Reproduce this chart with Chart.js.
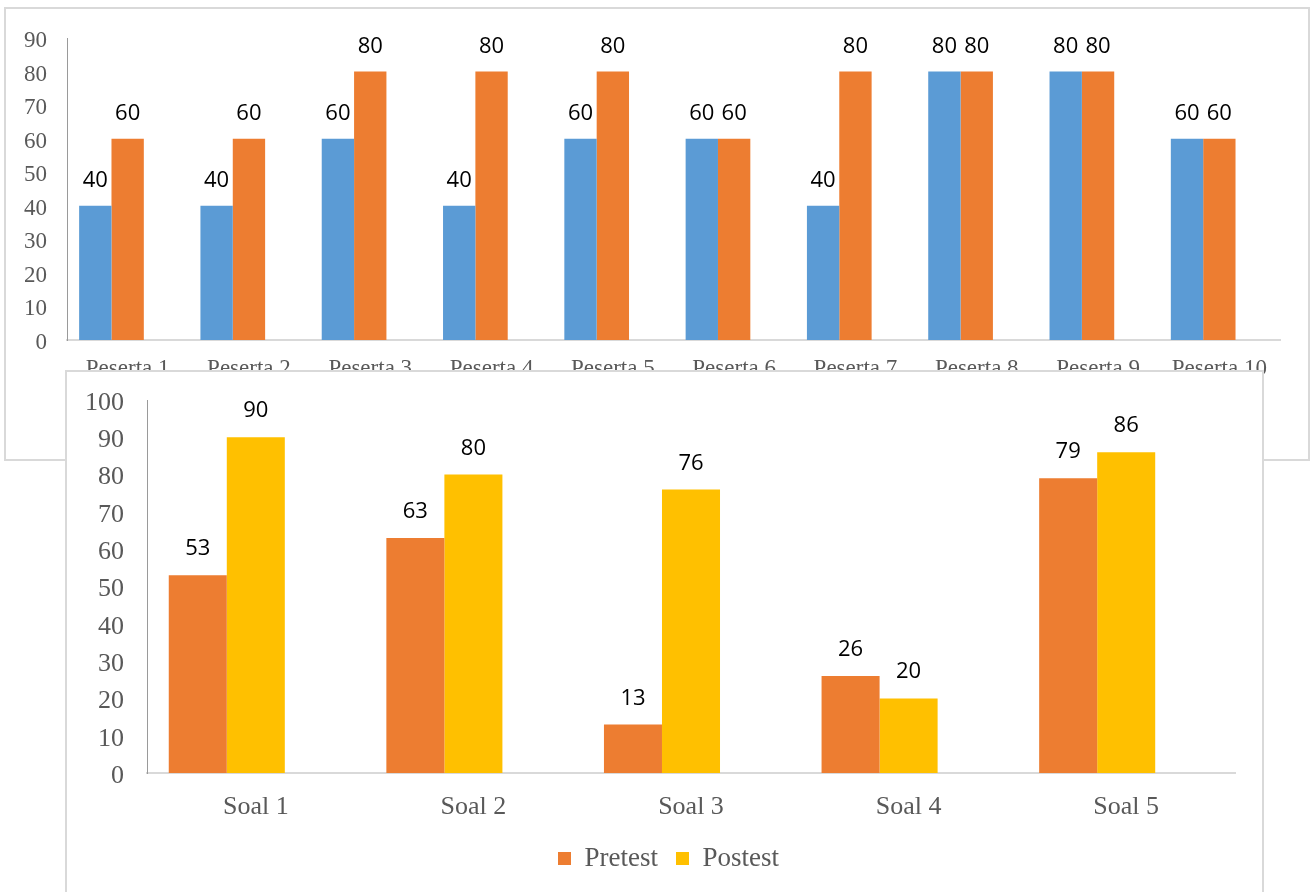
<!DOCTYPE html>
<html>
<head>
<meta charset="utf-8">
<script src="https://cdn.jsdelivr.net/npm/chart.js@4/dist/chart.umd.min.js"></script>
<style>
  body { margin: 0; background: #fff; width: 1310px; height: 892px; overflow: hidden; position: relative; }
  .box { position: absolute; box-sizing: border-box; border: 2px solid #d9d9d9; background: #fff; }
  canvas { position: absolute; }
</style>
</head>
<body>
<div class="box" style="left:4px;top:7px;width:1306px;height:454px;z-index:1"></div>
<canvas id="topChart" width="1303" height="452" style="left:5px;top:8px;z-index:2"></canvas>
<div class="box" style="left:65px;top:370px;width:1199px;height:600px;z-index:3"></div>
<canvas id="bottomChart" width="1196" height="521" style="left:66px;top:371px;z-index:4"></canvas>
<script>
// top chart: participants
const pesertaLabels = ['Peserta 1', 'Peserta 2', 'Peserta 3', 'Peserta 4', 'Peserta 5',
  'Peserta 6', 'Peserta 7', 'Peserta 8', 'Peserta 9', 'Peserta 10'];
const pesertaPretest = [40, 40, 60, 40, 60, 60, 40, 80, 80, 60];
const pesertaPostest = [60, 60, 80, 80, 80, 60, 80, 80, 80, 60];
const pesertaTicks = [0, 10, 20, 30, 40, 50, 60, 70, 80, 90];

// bottom chart: questions
const soalLabels = ['Soal 1', 'Soal 2', 'Soal 3', 'Soal 4', 'Soal 5'];
const soalPretest = [53, 63, 13, 26, 79];
const soalPostest = [90, 80, 76, 20, 86];
const soalTicks = [0, 10, 20, 30, 40, 50, 60, 70, 80, 90, 100];

const BLUE = '#5B9BD5';
const ORANGE = '#ED7D31';
const YELLOW = '#FFC000';
const TICK_COLOR = '#595959';
const SERIF = '"Liberation Serif", "Times New Roman", serif';

// draws the value above each bar
const barValueLabels = {
  id: 'barValueLabels',
  afterDatasetsDraw(chart, args, opts) {
    let ctx = chart.ctx;
    ctx.save();
    ctx.font = opts.font;
    ctx.fillStyle = opts.color;
    ctx.textAlign = 'center';
    ctx.textBaseline = 'alphabetic';
    chart.data.datasets.forEach(function (ds, i) {
      let meta = chart.getDatasetMeta(i);
      meta.data.forEach(function (bar, j) {
        let v = ds.data[j];
        if (v === null || v === undefined) return;
        ctx.fillText(String(v), bar.x, bar.y - opts.offset);
      });
    });
    ctx.restore();
  },
};

// nudges the legend sideways (the box in the original is centred on the whole frame)
const legendShift = {
  id: 'legendShift',
  afterLayout(chart, args, opts) {
    if (!chart.legend) return;
    chart.legend.left += opts.dx;
    chart.legend.right += opts.dx;
  },
};

function buildAxes(ticks, yWidth, xHeight, fontSize, xPad, yPad) {
  return {
    x: {
      grid: { display: false, drawTicks: false },
      border: { display: true, color: '#d9d9d9', width: 2 },
      ticks: {
        color: TICK_COLOR,
        padding: xPad,
        maxRotation: 0,
        autoSkip: false,
        font: { family: SERIF, size: fontSize },
      },
      afterFit: function (s) { s.height = xHeight; },
    },
    y: {
      min: ticks[0],
      max: ticks[ticks.length - 1],
      grid: { display: false, drawTicks: false },
      border: { display: true, color: '#9a9a9a', width: 1 },
      afterBuildTicks: function (s) { s.ticks = ticks.map(function (v) { return { value: v }; }); },
      ticks: {
        color: TICK_COLOR,
        padding: yPad,
        labelOffset: 3,
        // small lineHeight so the label does not push the plot area down
        font: { family: SERIF, size: fontSize, lineHeight: 0.4 },
      },
      afterFit: function (s) { s.width = yWidth; },
    },
  };
}

new Chart(document.getElementById('topChart'), {
  type: 'bar',
  data: {
    labels: pesertaLabels,
    datasets: [
      { label: 'Pretest', data: pesertaPretest, backgroundColor: BLUE },
      { label: 'Postest', data: pesertaPostest, backgroundColor: ORANGE },
      { label: 'Series3', data: [], backgroundColor: '#A5A5A5' },
    ],
  },
  options: {
    responsive: false,
    animation: false,
    categoryPercentage: 0.8,
    barPercentage: 1,
    layout: { padding: { top: 30, right: 28, left: 0, bottom: 0 } },
    scales: buildAxes(pesertaTicks, 62, 120, 23, 15, 20),
    plugins: {
      legend: { display: false },
      tooltip: { enabled: false },
      barValueLabels: { font: '22px "Open Sans", sans-serif', color: '#000', offset: 19 },
    },
  },
  plugins: [barValueLabels],
});

new Chart(document.getElementById('bottomChart'), {
  type: 'bar',
  data: {
    labels: soalLabels,
    datasets: [
      { label: 'Pretest', data: soalPretest, backgroundColor: ORANGE },
      { label: 'Postest', data: soalPostest, backgroundColor: YELLOW },
      { label: 'Series3', data: [], backgroundColor: '#A5A5A5' },
    ],
  },
  options: {
    responsive: false,
    animation: false,
    categoryPercentage: 0.8,
    barPercentage: 1,
    layout: { padding: { top: 29, right: 27, left: 0, bottom: 10 } },
    scales: buildAxes(soalTicks, 81, 54, 26, 19, 23),
    plugins: {
      legend: {
        position: 'bottom',
        labels: {
          boxWidth: 13,
          boxHeight: 13,
          padding: 18,
          color: TICK_COLOR,
          font: { family: SERIF, size: 27 },
          filter: function (item) { return item.datasetIndex < 2; },
        },
      },
      legendShift: { dx: 18 },
      tooltip: { enabled: false },
      barValueLabels: { font: '22px "Open Sans", sans-serif', color: '#000', offset: 20 },
    },
  },
  plugins: [barValueLabels, legendShift],
});
</script>
</body>
</html>
